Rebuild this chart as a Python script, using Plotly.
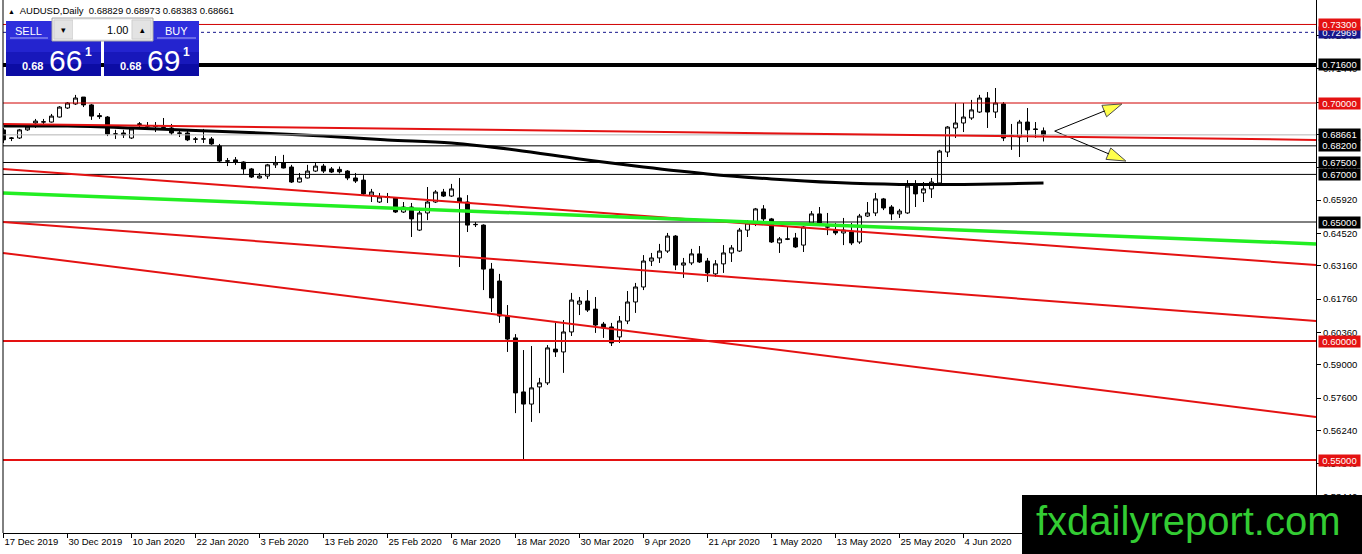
import plotly.graph_objects as go

# AUDUSD daily candles, one entry per trading day from 17 Dec 2019
opens = [0.6887, 0.6851, 0.6853, 0.6887, 0.6916, 0.6920, 0.6920, 0.6941, 0.6979, 0.6996,
         0.7025, 0.6992, 0.6947, 0.6941, 0.6870, 0.6874, 0.6853, 0.6910, 0.6903, 0.6904,
         0.6899, 0.6895, 0.6874, 0.6874, 0.6849, 0.6849, 0.6849, 0.6819, 0.6757, 0.6761,
         0.6752, 0.6723, 0.6685, 0.6693, 0.6740, 0.6748, 0.6731, 0.6668, 0.6685, 0.6714,
         0.6735, 0.6723, 0.6721, 0.6714, 0.6685, 0.6676, 0.6613, 0.6584, 0.6606, 0.6601,
         0.6542, 0.6563, 0.6466, 0.6538, 0.6584, 0.6626, 0.6609, 0.6601, 0.6584, 0.6490,
         0.6487, 0.6302, 0.6252, 0.6105, 0.6013, 0.5786, 0.5735, 0.5807, 0.5824, 0.5966,
         0.5954, 0.6038, 0.6155, 0.6168, 0.6134, 0.6071, 0.6059, 0.6017, 0.6084, 0.6164,
         0.6227, 0.6336, 0.6349, 0.6378, 0.6441, 0.6319, 0.6328, 0.6366, 0.6336, 0.6282,
         0.6324, 0.6370, 0.6378, 0.6466, 0.6496, 0.6555, 0.6513, 0.6412, 0.6429, 0.6433,
         0.6403, 0.6496, 0.6534, 0.6480, 0.6466, 0.6454, 0.6458, 0.6416, 0.6525, 0.6538,
         0.6597, 0.6563, 0.6534, 0.6538, 0.6651, 0.6622, 0.6639, 0.6664, 0.6794, 0.6895,
         0.6916, 0.6937, 0.6962, 0.7021, 0.6962, 0.6996, 0.6861, 0.6857, 0.6920, 0.6891,
         0.68829]
highs = [0.6895, 0.6857, 0.6891, 0.6908, 0.6933, 0.6933, 0.6954, 0.6987, 0.7004, 0.7034,
         0.7025, 0.6996, 0.6958, 0.6945, 0.6887, 0.6887, 0.6899, 0.6920, 0.6920, 0.6920,
         0.6937, 0.6912, 0.6887, 0.6882, 0.6857, 0.6891, 0.6857, 0.6828, 0.6769, 0.6773,
         0.6755, 0.6727, 0.6706, 0.6744, 0.6777, 0.6782, 0.6740, 0.6706, 0.6740, 0.6748,
         0.6744, 0.6731, 0.6733, 0.6718, 0.6706, 0.6697, 0.6639, 0.6622, 0.6622, 0.6605,
         0.6584, 0.6580, 0.6559, 0.6647, 0.6634, 0.6639, 0.6660, 0.6685, 0.6613, 0.6500,
         0.6490, 0.6328, 0.6282, 0.6151, 0.6029, 0.5962, 0.5979, 0.5845, 0.5983, 0.6076,
         0.6088, 0.6202, 0.6185, 0.6214, 0.6185, 0.6080, 0.6076, 0.6105, 0.6210, 0.6244,
         0.6361, 0.6370, 0.6408, 0.6454, 0.6445, 0.6349, 0.6387, 0.6399, 0.6349, 0.6340,
         0.6403, 0.6403, 0.6475, 0.6508, 0.6559, 0.6571, 0.6517, 0.6437, 0.6483, 0.6454,
         0.6483, 0.6546, 0.6563, 0.6538, 0.6496, 0.6517, 0.6496, 0.6534, 0.6584, 0.6622,
         0.6601, 0.6571, 0.6555, 0.6676, 0.6676, 0.6668, 0.6685, 0.6803, 0.6903, 0.7000,
         0.7000, 0.7013, 0.7034, 0.7046, 0.7063, 0.7004, 0.6912, 0.6929, 0.6979, 0.6920,
         0.68973]
lows = [0.6832, 0.6840, 0.6849, 0.6883, 0.6895, 0.6912, 0.6918, 0.6939, 0.6975, 0.6992,
        0.6983, 0.6929, 0.6933, 0.6861, 0.6849, 0.6853, 0.6849, 0.6899, 0.6887, 0.6878,
        0.6887, 0.6866, 0.6857, 0.6840, 0.6832, 0.6832, 0.6824, 0.6752, 0.6735, 0.6740,
        0.6702, 0.6685, 0.6683, 0.6681, 0.6727, 0.6725, 0.6664, 0.6666, 0.6683, 0.6710,
        0.6706, 0.6706, 0.6704, 0.6676, 0.6664, 0.6613, 0.6584, 0.6580, 0.6580, 0.6538,
        0.6538, 0.6437, 0.6462, 0.6508, 0.6580, 0.6605, 0.6605, 0.6311, 0.6458, 0.6479,
        0.6214, 0.6122, 0.6076, 0.5954, 0.5697, 0.5504, 0.5660, 0.5697, 0.5815, 0.5933,
        0.5866, 0.6021, 0.6109, 0.6122, 0.6034, 0.6013, 0.5979, 0.5992, 0.6071, 0.6118,
        0.6214, 0.6315, 0.6328, 0.6370, 0.6298, 0.6265, 0.6319, 0.6328, 0.6248, 0.6269,
        0.6286, 0.6332, 0.6374, 0.6437, 0.6483, 0.6500, 0.6412, 0.6370, 0.6424, 0.6391,
        0.6374, 0.6487, 0.6483, 0.6445, 0.6445, 0.6403, 0.6403, 0.6408, 0.6521, 0.6525,
        0.6550, 0.6508, 0.6517, 0.6534, 0.6563, 0.6584, 0.6601, 0.6660, 0.6773, 0.6853,
        0.6878, 0.6929, 0.6958, 0.6895, 0.6937, 0.6840, 0.6803, 0.6773, 0.6836, 0.6853,
        0.68383]
closes = [0.6845, 0.6853, 0.6887, 0.6899, 0.6924, 0.6921, 0.6945, 0.6983, 0.7000, 0.7021,
          0.6992, 0.6945, 0.6943, 0.6870, 0.6870, 0.6866, 0.6891, 0.6912, 0.6903, 0.6902,
          0.6898, 0.6874, 0.6873, 0.6845, 0.6848, 0.6849, 0.6828, 0.6756, 0.6756, 0.6752,
          0.6723, 0.6689, 0.6693, 0.6740, 0.6748, 0.6727, 0.6668, 0.6685, 0.6714, 0.6735,
          0.6714, 0.6710, 0.6711, 0.6685, 0.6672, 0.6618, 0.6626, 0.6605, 0.6604, 0.6542,
          0.6563, 0.6513, 0.6538, 0.6584, 0.6626, 0.6609, 0.6639, 0.6584, 0.6487, 0.6489,
          0.6302, 0.6181, 0.6105, 0.6008, 0.5782, 0.5735, 0.5803, 0.5824, 0.5971, 0.5954,
          0.6038, 0.6172, 0.6168, 0.6130, 0.6067, 0.6055, 0.5992, 0.6084, 0.6164, 0.6227,
          0.6336, 0.6349, 0.6378, 0.6441, 0.6319, 0.6328, 0.6366, 0.6332, 0.6286, 0.6324,
          0.6370, 0.6391, 0.6466, 0.6496, 0.6555, 0.6513, 0.6416, 0.6429, 0.6428, 0.6395,
          0.6479, 0.6534, 0.6496, 0.6479, 0.6454, 0.6466, 0.6412, 0.6525, 0.6538, 0.6597,
          0.6559, 0.6534, 0.6546, 0.6651, 0.6618, 0.6639, 0.6668, 0.6798, 0.6899, 0.6916,
          0.6941, 0.6971, 0.7021, 0.6962, 0.7000, 0.6853, 0.6862, 0.6920, 0.6887, 0.6889,
          0.68661]
bars = list(range(len(opens)))

tick_bars = [0, 8, 16, 24, 32, 40, 48, 56, 64, 72, 80, 88, 96, 104, 112, 120]
tick_labels = ["17 Dec 2019", "30 Dec 2019", "10 Jan 2020", "22 Jan 2020", "3 Feb 2020",
               "13 Feb 2020", "25 Feb 2020", "6 Mar 2020", "18 Mar 2020", "30 Mar 2020",
               "9 Apr 2020", "21 Apr 2020", "1 May 2020", "13 May 2020", "25 May 2020",
               "4 Jun 2020"]

# moving average (black), read every 8 bars
ma_bars = [0, 8, 16, 24, 32, 40, 48, 56, 64, 72, 80, 88, 96, 104, 112, 120, 130]
ma_values = [0.6903, 0.6903, 0.6895, 0.6884, 0.6874, 0.6861, 0.6845, 0.6832, 0.6803,
             0.6765, 0.6731, 0.6702, 0.6681, 0.6666, 0.6658, 0.6658, 0.6664]

price_ticks = [0.5344, 0.5484, 0.5624, 0.5760, 0.5900, 0.6036, 0.6176, 0.6316, 0.6452,
               0.6592, 0.6728, 0.6868, 0.7004, 0.7144, 0.7284]

RED = "#e41212"
DARKRED = "#d00000"
GREEN = "#22ee22"
NAVY = "#17178c"

# horizontal levels
level_prices = [0.733, 0.72969, 0.716, 0.700, 0.68661, 0.682, 0.675, 0.670, 0.650, 0.600, 0.550]
level_colors = [DARKRED, NAVY, "black", DARKRED, "#b4b4b4", "black", "black", "black", "black", RED, RED]
level_widths = [1, 1, 4, 1, 1, 1, 1, 1, 1, 2, 2]
level_dash = ["solid", "3px,3px", "solid", "solid", "solid", "solid", "solid", "solid", "solid", "solid", "solid"]
level_label_bg = [RED, NAVY, "black", RED, "black", "black", "black", "black", "black", RED, RED]

# trend lines: price at the left and right edges of the window
trend_left = [0.6912, 0.6723, 0.6622, 0.6500, 0.6370]
trend_right = [0.6845, 0.6319, 0.6408, 0.6084, 0.5681]
trend_colors = [RED, RED, GREEN, RED, RED]
trend_widths = [2, 2, 3.5, 2, 2]

arrow_start = (131.4, 0.6882)
arrow_ends = [(139.8, 0.6996), (140.3, 0.6756)]

FONT = "Liberation Sans"
PL = 3  # plot left edge in px

fig = go.Figure()

fig.add_trace(go.Candlestick(x=bars, open=opens, high=highs, low=lows, close=closes,
                             increasing=dict(line=dict(color="black", width=1), fillcolor="white"),
                             decreasing=dict(line=dict(color="black", width=1), fillcolor="black"),
                             whiskerwidth=0, hoverinfo="skip", showlegend=False))

fig.add_trace(go.Scatter(x=ma_bars, y=ma_values, mode="lines", line=dict(color="black", width=3, shape="spline"),
                         hoverinfo="skip", showlegend=False))

for (x1, y1) in arrow_ends:
    fig.add_trace(go.Scatter(x=[arrow_start[0], x1], y=[arrow_start[1], y1], mode="lines+markers",
                             line=dict(color="black", width=1),
                             marker=dict(symbol="arrow", size=[0, 20], angleref="previous",
                                         color="#ffff00", line=dict(color="black", width=1)),
                             hoverinfo="skip", showlegend=False))

shapes = []
for p, c, w, d in zip(level_prices, level_colors, level_widths, level_dash):
    shapes.append(dict(type="line", xref="paper", yref="y", x0=0, x1=1, y0=p, y1=p,
                       line=dict(color=c, width=w, dash=d), layer="above"))
for a, b, c, w in zip(trend_left, trend_right, trend_colors, trend_widths):
    shapes.append(dict(type="line", xref="paper", yref="y", x0=0, x1=1, y0=a, y1=b,
                       line=dict(color=c, width=w), layer="above"))
shapes.append(dict(type="line", xref="paper", yref="paper", x0=0, x1=0, y0=0, y1=1,
                   line=dict(color="black", width=1), layer="above"))


def box(x0, y0, x1, y1, fill, line_color=None):
    return dict(type="rect", xref="paper", yref="paper", xsizemode="pixel", ysizemode="pixel",
                xanchor=0, yanchor=1, x0=x0 - PL, x1=x1 - PL, y0=-y0, y1=-y1, fillcolor=fill,
                line=dict(color=line_color or fill, width=1 if line_color else 0), layer="above")


def hline(x0, x1, y, color):
    return dict(type="line", xref="paper", yref="paper", xsizemode="pixel", ysizemode="pixel",
                xanchor=0, yanchor=1, x0=x0 - PL, x1=x1 - PL, y0=-y, y1=-y,
                line=dict(color=color, width=1), layer="above")


def text(x, y, s, size, color="white", xanchor="center", family=FONT):
    return dict(xref="paper", yref="paper", x=0, y=1, xshift=x - PL, yshift=-y, xanchor=xanchor,
                yanchor="middle", text=s, showarrow=False, font=dict(family=family, size=size, color=color))


# one-click trading panel
for left in (6, 104):
    shapes.append(box(left, 21, left + 95, 40, "#2e2edc"))
    shapes.append(box(left, 40, left + 95, 52, "#2424cf"))
    shapes.append(box(left, 52, left + 95, 64, "#1818bb"))
    shapes.append(box(left, 64, left + 95, 76, "#0c0ca4"))
shapes.append(hline(10, 48, 38, "#a8a8f4"))
shapes.append(hline(157, 196, 38, "#a8a8f4"))
shapes.append(box(52, 18, 153, 41, "#f0f0f0", "#a8a8a8"))
shapes.append(box(54, 20, 73, 39, "#e3e3e3", "#cfcfcf"))
shapes.append(box(73, 20, 132, 39, "white"))
shapes.append(box(132, 20, 151, 39, "#e3e3e3", "#cfcfcf"))

# watermark
shapes.append(box(1022, 495, 1366, 558, "black"))

annotations = [
    text(6, 10, "<span style='font-size:7px'>▲</span>  AUDUSD,Daily  0.68829 0.68973 0.68383 0.68661",
         9.5, "black", "left"),
    text(28, 31, "SELL", 11),
    text(176, 31, "BUY", 11),
    text(63, 30, "▾", 9, "black"),
    text(142, 30, "▴", 9, "black"),
    text(130, 30, "1.00", 11, "black", "right"),
    text(32, 66, "<b>0.68</b>", 11),
    text(130, 66, "<b>0.68</b>", 11),
    text(47, 60, "66", 30, "white", "left"),
    text(145, 60, "69", 30, "white", "left"),
    text(88, 52, "<b>1</b>", 12),
    text(186, 52, "<b>1</b>", 12),
    text(1034, 521, "fxdailyreport.com", 40, "#33cc33", "left"),
]

for p, bg in reversed(list(zip(level_prices, level_label_bg))):
    annotations.append(dict(xref="paper", yref="y", x=1, y=p, xshift=2, xanchor="left", yanchor="middle",
                            text=f"{p:.5f}", showarrow=False, bgcolor=bg, borderpad=0, width=41, height=11,
                            font=dict(family=FONT, size=9.5, color="white")))

fig.update_layout(width=1362, height=554, margin=dict(l=PL, r=46, t=0, b=21),
                  plot_bgcolor="white", paper_bgcolor="white", showlegend=False,
                  hovermode=False, shapes=shapes, annotations=annotations,
                  font=dict(family=FONT, size=9.5, color="black"))

fig.update_xaxes(range=[-0.0625, 164.0625], tickvals=tick_bars, ticktext=tick_labels,
                 ticks="outside", ticklen=4, tickcolor="black", ticklabelposition="outside right",
                 showline=True, linecolor="black", linewidth=1, showgrid=False, zeroline=False,
                 rangeslider=dict(visible=False), tickfont=dict(size=9.5))

fig.update_yaxes(range=[0.519328, 0.743277], side="right", tickvals=price_ticks, tickformat=".5f",
                 ticks="outside", ticklen=4, tickcolor="black", showline=True, linecolor="black",
                 linewidth=1, showgrid=False, zeroline=False, tickfont=dict(size=9.5))

fig.write_html("out.html", config={"displayModeBar": False},
               post_script="document.body.style.margin='0';")
